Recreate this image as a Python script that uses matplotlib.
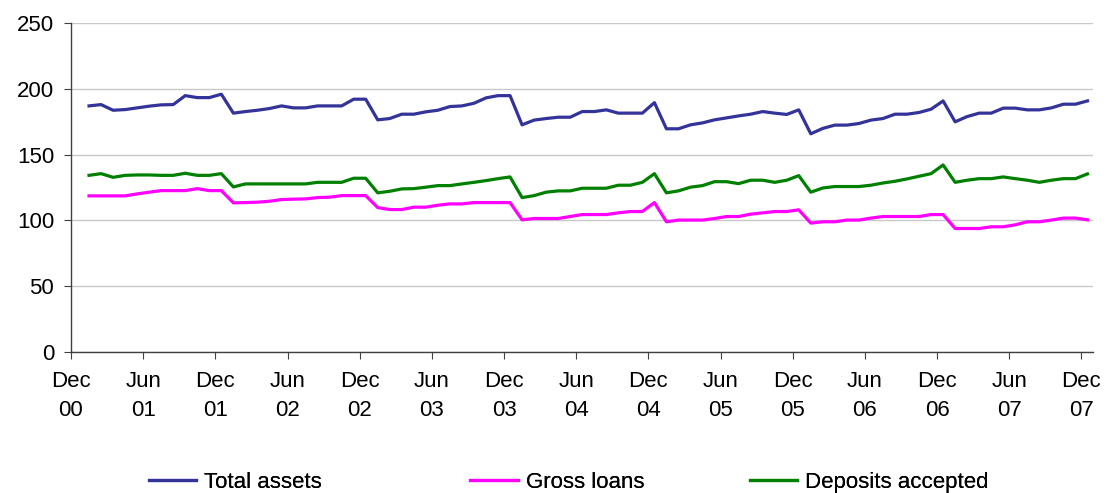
import numpy as np
import matplotlib
matplotlib.use("Agg")
import matplotlib.pyplot as plt

# monthly values, Jan 01 .. Dec 07
total_assets = [
    187.1, 188.1, 183.8, 184.3, 185.6, 186.9, 187.9, 188.1, 194.9, 193.4, 193.4, 196.0,
    181.6, 182.8, 183.8, 185.1, 187.1, 185.6, 185.6, 187.1, 187.1, 187.1, 192.2, 192.2,
    176.5, 177.5, 180.8, 180.8, 182.6, 183.8, 186.6, 187.1, 189.1, 193.2, 194.9, 194.9,
    172.7, 176.3, 177.5, 178.5, 178.5, 182.8, 182.8, 184.1, 181.6, 181.6, 181.6, 189.6,
    169.7, 169.7, 172.7, 174.2, 176.5, 178.0, 179.5, 180.8, 182.8, 181.6, 180.6, 184.1,
    165.9, 170.0, 172.5, 172.5, 173.7, 176.3, 177.5, 180.8, 180.8, 182.1, 184.6, 190.9,
    175.0, 179.0, 181.6, 181.6, 185.4, 185.4, 184.1, 184.1, 185.6, 188.4, 188.4, 190.9,
]
gross_loans = [
    118.7, 118.7, 118.7, 118.7, 120.2, 121.5, 122.7, 122.7, 122.7, 124.2, 122.7, 122.7,
    113.4, 113.6, 113.9, 114.6, 115.9, 116.2, 116.4, 117.4, 117.7, 118.9, 118.9, 118.9,
    109.8, 108.3, 108.3, 110.1, 110.1, 111.6, 112.6, 112.6, 113.6, 113.6, 113.6, 113.6,
    100.5, 101.5, 101.5, 101.5, 103.0, 104.5, 104.5, 104.5, 105.8, 106.8, 106.8, 113.6,
    99.0, 100.3, 100.3, 100.3, 101.5, 103.0, 103.0, 104.8, 105.8, 106.8, 106.8, 108.1,
    98.0, 99.0, 99.0, 100.3, 100.3, 101.8, 103.0, 103.0, 103.0, 103.0, 104.5, 104.5,
    93.9, 93.9, 93.9, 95.2, 95.2, 96.7, 99.0, 99.0, 100.3, 101.8, 101.8, 100.5,
]
deposits = [
    134.3, 135.6, 132.8, 134.3, 134.6, 134.6, 134.3, 134.3, 135.9, 134.3, 134.3, 135.6,
    125.5, 127.8, 127.8, 127.8, 127.8, 127.8, 127.8, 129.0, 129.0, 129.0, 132.1, 132.1,
    121.0, 122.2, 124.0, 124.2, 125.3, 126.5, 126.5, 127.8, 129.0, 130.3, 131.8, 133.1,
    117.4, 118.9, 121.5, 122.5, 122.5, 124.5, 124.5, 124.5, 126.8, 126.8, 129.0, 135.6,
    121.0, 122.5, 125.3, 126.5, 129.5, 129.5, 128.0, 130.6, 130.6, 129.0, 130.6, 134.1,
    121.5, 124.7, 125.8, 125.8, 125.8, 126.8, 128.5, 129.8, 131.6, 133.6, 135.6, 142.2,
    129.0, 130.6, 131.8, 131.8, 133.1, 131.8, 130.6, 129.0, 130.6, 131.8, 131.8, 135.4,
]
tick_labels = ["Dec\n00", "Jun\n01", "Dec\n01", "Jun\n02", "Dec\n02", "Jun\n03", "Dec\n03",
               "Jun\n04", "Dec\n04", "Jun\n05", "Dec\n05", "Jun\n06", "Dec\n06", "Jun\n07",
               "Dec\n07"]

plt.rcParams['font.family'] = ['Liberation Sans', 'DejaVu Sans']

fig = plt.figure(figsize=(11.09, 4.93), dpi=100)
ax = fig.add_axes([0.064, 0.286, 0.922, 0.667])

# category axis: month 0 = Dec 00 (empty), points sit in the middle of each slot
x = np.arange(1, len(total_assets) + 1) + 0.5

series = [
    (total_assets, "#333399", "Total assets"),
    (gross_loans, "#FF00FF", "Gross loans"),
    (deposits, "#008000", "Deposits accepted"),
]
lines = []
for vals, col, lab in series:
    ln, = ax.plot(x, vals, color=col, lw=2.3, label=lab)
    lines.append(ln)

ax.set_xlim(0, 85)
ax.set_ylim(0, 250)
ax.set_yticks(np.arange(0, 251, 50))
ax.set_xticks(np.arange(0, 85, 6))
ax.set_xticklabels(tick_labels)
for lbl in ax.get_xticklabels():
    lbl.set_linespacing(1.5)

ax.grid(axis="y", color="#c8c8c8", lw=1)
ax.set_axisbelow(True)
for s in ["top", "right"]:
    ax.spines[s].set_visible(False)
for s in ["left", "bottom"]:
    ax.spines[s].set_color("#404040")
    ax.spines[s].set_linewidth(1)
ax.tick_params(axis="both", labelsize=16, length=5, color="#404040", direction="out")
ax.tick_params(axis="y", pad=7)
ax.tick_params(axis="x", pad=9)

# legend entries placed one by one, like the spreadsheet legend
for ln, xpos in zip(lines, [0.134, 0.424, 0.676]):
    leg = fig.legend(handles=[ln], loc="center left", bbox_to_anchor=(xpos, 0.022),
                     frameon=False, fontsize=16, handlelength=2.15, handletextpad=0.35,
                     borderaxespad=0, borderpad=0)
    fig.add_artist(leg)

fig.savefig("out.png", dpi=100)
